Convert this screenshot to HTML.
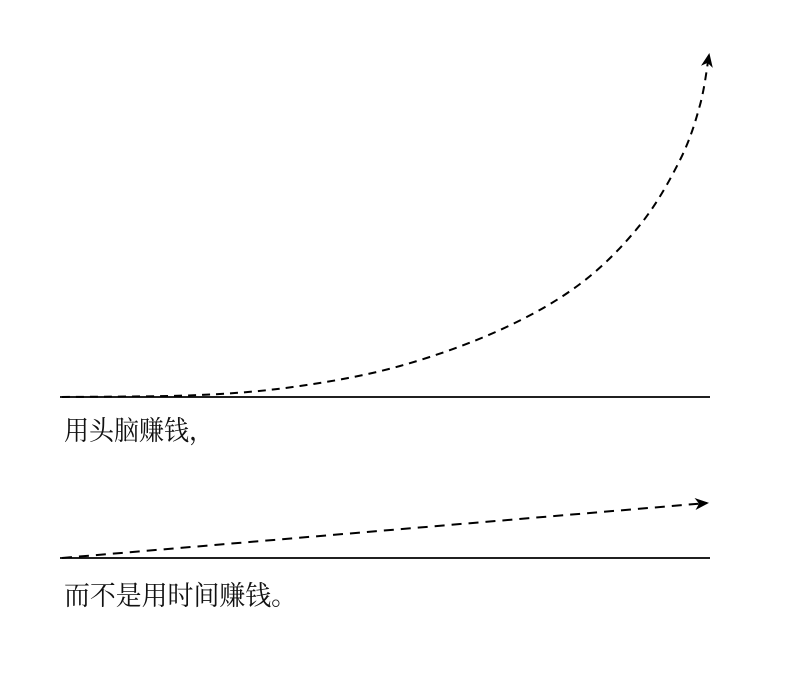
<!DOCTYPE html>
<html><head><meta charset="utf-8">
<style>
html,body{margin:0;padding:0;background:#fff;width:791px;height:683px;overflow:hidden}
svg{display:block}
text{font-family:"Liberation Serif","Noto Serif CJK SC","Noto Sans CJK SC",serif;font-size:27px;fill:#111}
</style></head>
<body>
<svg width="791" height="683">
<defs>
<marker id="ah" markerWidth="14" markerHeight="12" refX="12" refY="6" orient="auto" markerUnits="userSpaceOnUse">
<path d="M0,0 L14,6 L0,12 L4,6 Z" fill="#000"/>
</marker>
</defs>
<line x1="60" y1="397" x2="710" y2="397" stroke="#000" stroke-width="1.8"/>
<line x1="60" y1="558" x2="710" y2="558" stroke="#000" stroke-width="1.8"/>
<path id="curve" fill="none" stroke="#000" stroke-width="2" stroke-dasharray="8,6" marker-end="url(#ah)"/>
<path id="linear" fill="none" stroke="#000" stroke-width="2" stroke-dasharray="10,7" marker-end="url(#ah)"/>
<text x="64" y="440" textLength="150" lengthAdjust="spacingAndGlyphs">用头脑赚钱，</text>
<text x="64" y="605" textLength="233" lengthAdjust="spacingAndGlyphs">而不是用时间赚钱。</text>
</svg>
<script>
const curveX=[62,200,300,400,500,580,640,680,700,709];
const curveY=[397,395,386,366,330,284,225,160,105,55];
const lineX=[62,707];
const lineY=[558,503];
function smooth(xs,ys){
  let d='M'+xs[0]+','+ys[0];
  for(let i=0;i<xs.length-1;i++){
    const x0=xs[Math.max(i-1,0)],y0=ys[Math.max(i-1,0)];
    const x1=xs[i],y1=ys[i],x2=xs[i+1],y2=ys[i+1];
    const x3=xs[Math.min(i+2,xs.length-1)],y3=ys[Math.min(i+2,ys.length-1)];
    d+=' C'+(x1+(x2-x0)/6)+','+(y1+(y2-y0)/6)+' '+(x2-(x3-x1)/6)+','+(y2-(y3-y1)/6)+' '+x2+','+y2;
  }
  return d;
}
document.getElementById('curve').setAttribute('d',smooth(curveX,curveY));
document.getElementById('linear').setAttribute('d','M'+lineX[0]+','+lineY[0]+' L'+lineX[1]+','+lineY[1]);
</script>
</body></html>
